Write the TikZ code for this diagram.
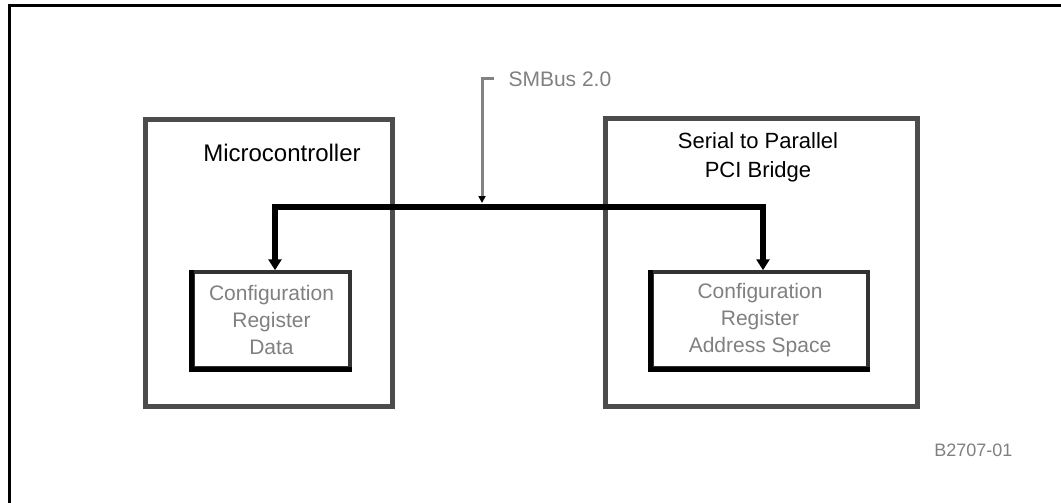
\documentclass[tikz,border=0pt]{standalone}
\usepackage{fontspec}
\setmainfont{Liberation Sans}
\usetikzlibrary{arrows.meta}

\definecolor{framegray}{gray}{0.3}
\definecolor{textgray}{gray}{0.5}

\tikzset{
  chipbox/.style={draw=framegray,line width=5pt,minimum width=#1,inner sep=0pt},
  regbox/.style={draw=black!80,line width=3.5pt,minimum width=#1,minimum height=96pt,
                 inner sep=0pt,align=center,text=textgray,
                 font=\fontsize{21}{27}\selectfont},
  shadow/.style={line width=5pt,line cap=butt,line join=miter},
  title/.style={align=center,font=\fontsize{22}{29}\selectfont},
  bus/.style={line width=6pt,-{Triangle[width=13pt,length=11pt]}},
}

\begin{document}
\begin{tikzpicture}[x=1pt,y=-1pt]
    \useasboundingbox (0,0) rectangle (1061,503);
    \draw[line width=3pt] (1061,6) -- (9.5,6) -- (9.5,503);

    \node[chipbox=247pt,minimum height=287pt] (micro) at (268.5,262.5) {};
    \node[chipbox=312pt,minimum height=288pt] (bridge) at (761,262) {};

    \node[title,font=\fontsize{24}{29}\selectfont] (microtitle) at (282,153) {Microcontroller};
    \node[title] (bridgetitle) at (758,157) {Serial to Parallel\\PCI Bridge};

    \node[regbox=157pt] (regdata) at (271.5,320) {Configuration\\Register\\Data};
    \node[regbox=216pt] (regspace) at (760,320) {Configuration\\Register\\Address Space};
    \draw[shadow] (regdata.north west) -- (regdata.south west) -- (regdata.south east);
    \draw[shadow] (regspace.north west) -- (regspace.south west) -- (regspace.south east);

    \coordinate (busleft) at (275,207);
    \coordinate (busright) at (763,207);
    \draw[bus] (busright) -- (busleft) -- (regdata.north -| busleft);
    \draw[bus] (busleft) -- (busright) -- (regspace.north -| busright);

    \node[anchor=west,text=textgray,font=\fontsize{21}{24}\selectfont] (smbus) at (505,79) {SMBus 2.0};
    \coordinate (smbtick) at (494,79);
    \draw[framegray!70,line width=3pt,-{Triangle[width=7pt,length=7pt,black]}]
        (smbtick) -- (482,79) -- (482,203);

    \node[anchor=east,text=textgray,font=\fontsize{18}{22}\selectfont] (figid) at (1016,450) {B2707-01};
  \end{tikzpicture}
\end{document}
